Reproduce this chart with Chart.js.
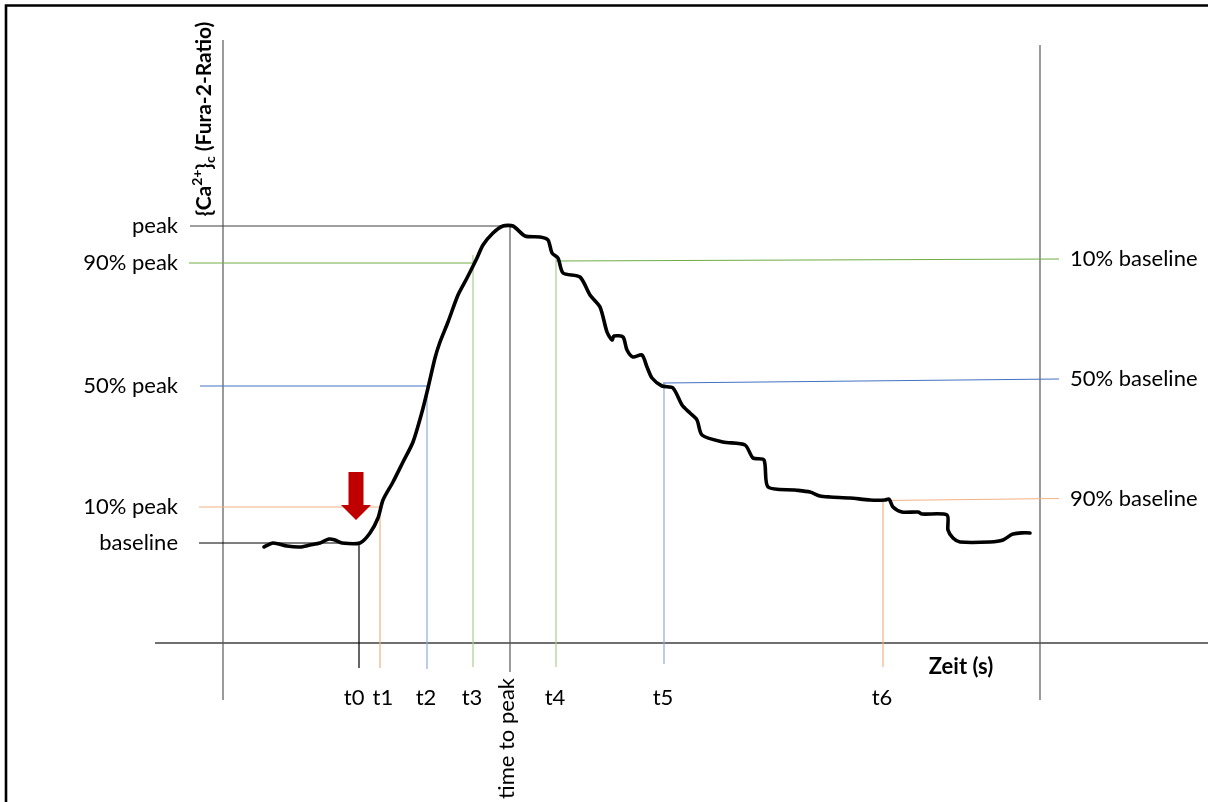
<!DOCTYPE html>
<html lang="de">
<head>
<meta charset="UTF-8">
<title>Ca2+ Fura-2 Ratio</title>
<script src="https://cdn.jsdelivr.net/npm/chart.js"></script>
<style>
  html, body { margin: 0; padding: 0; background: #fff; }
  canvas { display: block; }
</style>
</head>
<body>
<canvas id="caChart" width="1208" height="802"></canvas>
<script>
// Fura-2 trace: time (s) and ratio
const curveTime = [20.5, 25, 32, 38.5, 43.5, 48.5, 53, 56, 59.5, 68.5, 73.5, 77.5, 80, 85, 90, 95, 99.5, 102.5,
  106, 108.5, 112.5, 117.5, 122, 127, 130, 135, 140, 145, 151, 158.5, 162.5, 164.5, 167.5, 170, 178.5, 183.5,
  188.5, 192, 194.5, 195.5, 200, 202, 205, 209.5, 212, 214.5, 219.5, 225, 229.5, 233.5, 237, 239.5, 250, 261,
  265, 270.5, 272.5, 286, 293.5, 298.5, 303.5, 313.5, 323.5, 331, 333, 335, 339.5, 347.5, 349.5, 362, 362.5,
  365, 368.5, 383.5, 390, 395, 403.5, 407.5];
const curveRatio = [0.96, 1.00, 0.97, 0.96, 0.98, 1.00, 1.04, 1.03, 1.00, 1.00, 1.10, 1.25, 1.43, 1.61, 1.81, 2.01,
  2.31, 2.55, 2.85, 3.01, 3.21, 3.48, 3.65, 3.85, 3.98, 4.10, 4.17, 4.17, 4.07, 4.06, 4.03, 3.90, 3.85, 3.70,
  3.66, 3.48, 3.36, 3.11, 3.03, 3.07, 3.06, 2.93, 2.86, 2.88, 2.76, 2.65, 2.57, 2.55, 2.38, 2.30, 2.23, 2.08,
  2.01, 1.98, 1.85, 1.83, 1.56, 1.53, 1.51, 1.47, 1.46, 1.45, 1.43, 1.43, 1.44, 1.36, 1.31, 1.31, 1.29, 1.28,
  1.13, 1.05, 1.01, 1.01, 1.03, 1.09, 1.10, 1.05];

// levels on the left (peak side)
const leftLabels = ['peak', '90% peak', '50% peak', '10% peak', 'baseline'];
const leftValues = [4.17, 3.80, 2.57, 1.36, 1.00];
const leftStart = [-16.5, -17, -11.5, -12, -12];
const leftEnd = [143.5, 126, 102.5, 78.5, 68.5];

// levels on the right (decay side)
const rightLabels = ['10% baseline', '50% baseline', '90% baseline'];
const rightStartTime = [166.5, 220, 330.5];
const rightStartValue = [3.82, 2.60, 1.425];
const rightEndValue = [3.84, 2.64, 1.445];
const rightEnd = 418;

// time marks
const tickLabels = ['t0', 't1', 't2', 't3', 'time to peak', 't4', 't5', 't6'];
const tickTimes = [68, 78.5, 102, 125, 143.5, 166.5, 220.5, 330];
const tickTops = [1.00, 1.36, 2.57, 3.88, 4.17, 3.85, 2.60, 1.43];
const tickBottoms = [-0.25, -0.25, -0.26, -0.24, -0.29, -0.24, -0.21, -0.24];

// axis frame
const axisTimes = [0, 408.5];
const axisTop = [6.03, 5.98];
const axisBottom = -0.57;
const xAxisFrom = -34, xAxisTo = 493;

// stimulus arrow
const arrowTime = 66.5, arrowTop = 1.71, arrowTip = 1.23;

const leftColors = ['#404040', '#70AD47', '#4472C4', '#F4B183', '#000000'];
const rightColors = ['#70AD47', '#4472C4', '#F4B183'];
const tickColors = ['#000000', '#F4B183', '#8FAADC', '#A9D18E', '#595959', '#A9D18E', '#8FAADC', '#F4B183'];
const axisColor = '#595959';

const font = '"Lato", "Liberation Sans", sans-serif';

function seg(data, color, width) {
  return { data, borderColor: color, borderWidth: width, pointRadius: 0, tension: 0, clip: false, order: 5 };
}

const datasets = [{
  label: 'Fura-2',
  data: curveTime.map((t, i) => ({ x: t, y: curveRatio[i] })),
  borderColor: '#000',
  borderWidth: 3.6,
  pointRadius: 0,
  tension: 0.25,
  borderJoinStyle: 'round',
  borderCapStyle: 'round',
  clip: false,
  order: 0
}];

leftValues.forEach((v, i) => datasets.push(seg([{ x: leftStart[i], y: v }, { x: leftEnd[i], y: v }], leftColors[i], 1.2)));
rightStartTime.forEach((t, i) => datasets.push(seg([{ x: t, y: rightStartValue[i] }, { x: rightEnd, y: rightEndValue[i] }], rightColors[i], 1.2)));
tickTimes.forEach((t, i) => datasets.push(seg([{ x: t, y: tickTops[i] }, { x: t, y: tickBottoms[i] }], tickColors[i], 1.2)));
axisTimes.forEach((t, i) => datasets.push(seg([{ x: t, y: axisTop[i] }, { x: t, y: axisBottom }], axisColor, 1.2)));
datasets.push(seg([{ x: xAxisFrom, y: 0 }, { x: xAxisTo, y: 0 }], '#404040', 1.3));

const labelPlugin = {
  id: 'labelPlugin',
  afterDatasetsDraw(chart) {
    const { ctx, scales: { x, y } } = chart;
    ctx.save();

    // frame around the figure
    ctx.strokeStyle = '#000';
    ctx.lineWidth = 2.6;
    ctx.beginPath();
    ctx.moveTo(6, 802);
    ctx.lineTo(6, 5.5);
    ctx.lineTo(1208, 5.5);
    ctx.stroke();

    // red stimulus arrow
    const ax = x.getPixelForValue(arrowTime);
    const aTop = y.getPixelForValue(arrowTop);
    const aTip = y.getPixelForValue(arrowTip);
    ctx.fillStyle = '#C00000';
    ctx.beginPath();
    ctx.moveTo(ax - 7.5, aTop);
    ctx.lineTo(ax + 7.5, aTop);
    ctx.lineTo(ax + 7.5, aTip - 15);
    ctx.lineTo(ax + 15, aTip - 15);
    ctx.lineTo(ax, aTip);
    ctx.lineTo(ax - 15, aTip - 15);
    ctx.lineTo(ax - 7.5, aTip - 15);
    ctx.closePath();
    ctx.fill();

    ctx.fillStyle = '#000';
    ctx.font = '22px ' + font;
    ctx.textBaseline = 'middle';

    // left level labels
    ctx.textAlign = 'right';
    leftLabels.forEach((s, i) => ctx.fillText(s, x.getPixelForValue(0) - 45, y.getPixelForValue(leftValues[i])));

    // right level labels
    ctx.textAlign = 'left';
    rightLabels.forEach((s, i) => ctx.fillText(s, x.getPixelForValue(rightEnd) + 11, y.getPixelForValue(rightEndValue[i])));

    // time labels: centred under their mark, pushed apart when too close
    const base = y.getPixelForValue(0);
    const flat = [];
    tickLabels.forEach((s, i) => {
      const px = x.getPixelForValue(tickTimes[i]);
      if (s === 'time to peak') {
        ctx.save();
        ctx.translate(px - 3, base + 35);
        ctx.rotate(-Math.PI / 2);
        ctx.textAlign = 'right';
        ctx.fillText(s, 0, 0);
        ctx.restore();
      } else {
        flat.push({ s, c: px - 1, w: ctx.measureText(s).width });
      }
    });
    for (let i = 1; i < flat.length; i++) {
      const a = flat[i - 1], b = flat[i];
      const gap = (b.c - b.w / 2) - (a.c + a.w / 2);
      if (gap < 8) {
        a.c -= (8 - gap) / 2;
        b.c += (8 - gap) / 2;
      }
    }
    ctx.textAlign = 'center';
    flat.forEach(l => ctx.fillText(l.s, l.c, base + 55));

    // x axis title
    ctx.font = 'bold 22px ' + font;
    ctx.textAlign = 'center';
    ctx.fillText('Zeit (s)', x.getPixelForValue(369), base + 24);

    // y axis title, rotated, with super- and subscript
    ctx.translate(x.getPixelForValue(0) - 19, y.getPixelForValue(5.24));
    ctx.rotate(-Math.PI / 2);
    const parts = [['{Ca', 0, 21], ['2+', -7, 14], ['}', 0, 21], ['c', 6, 14], [' (Fura-2-Ratio)', 0, 21]];
    let total = 0;
    parts.forEach(p => { ctx.font = 'bold ' + p[2] + 'px ' + font; total += ctx.measureText(p[0]).width; });
    let cx = -total / 2;
    ctx.textAlign = 'left';
    parts.forEach(p => {
      ctx.font = 'bold ' + p[2] + 'px ' + font;
      ctx.fillText(p[0], cx, p[1]);
      cx += ctx.measureText(p[0]).width;
    });
    ctx.restore();
  }
};

const ctx = document.getElementById('caChart').getContext('2d');
const chart = new Chart(ctx, {
  type: 'line',
  data: { datasets },
  options: {
    responsive: false,
    animation: false,
    layout: { padding: { left: 223, right: 185, top: 43, bottom: 159 } },
    scales: {
      x: { type: 'linear', min: 0, max: 400, display: false },
      y: { type: 'linear', min: 0, max: 6, display: false }
    },
    plugins: { legend: { display: false }, tooltip: { enabled: false } }
  },
  plugins: [labelPlugin]
});
</script>
</body>
</html>
